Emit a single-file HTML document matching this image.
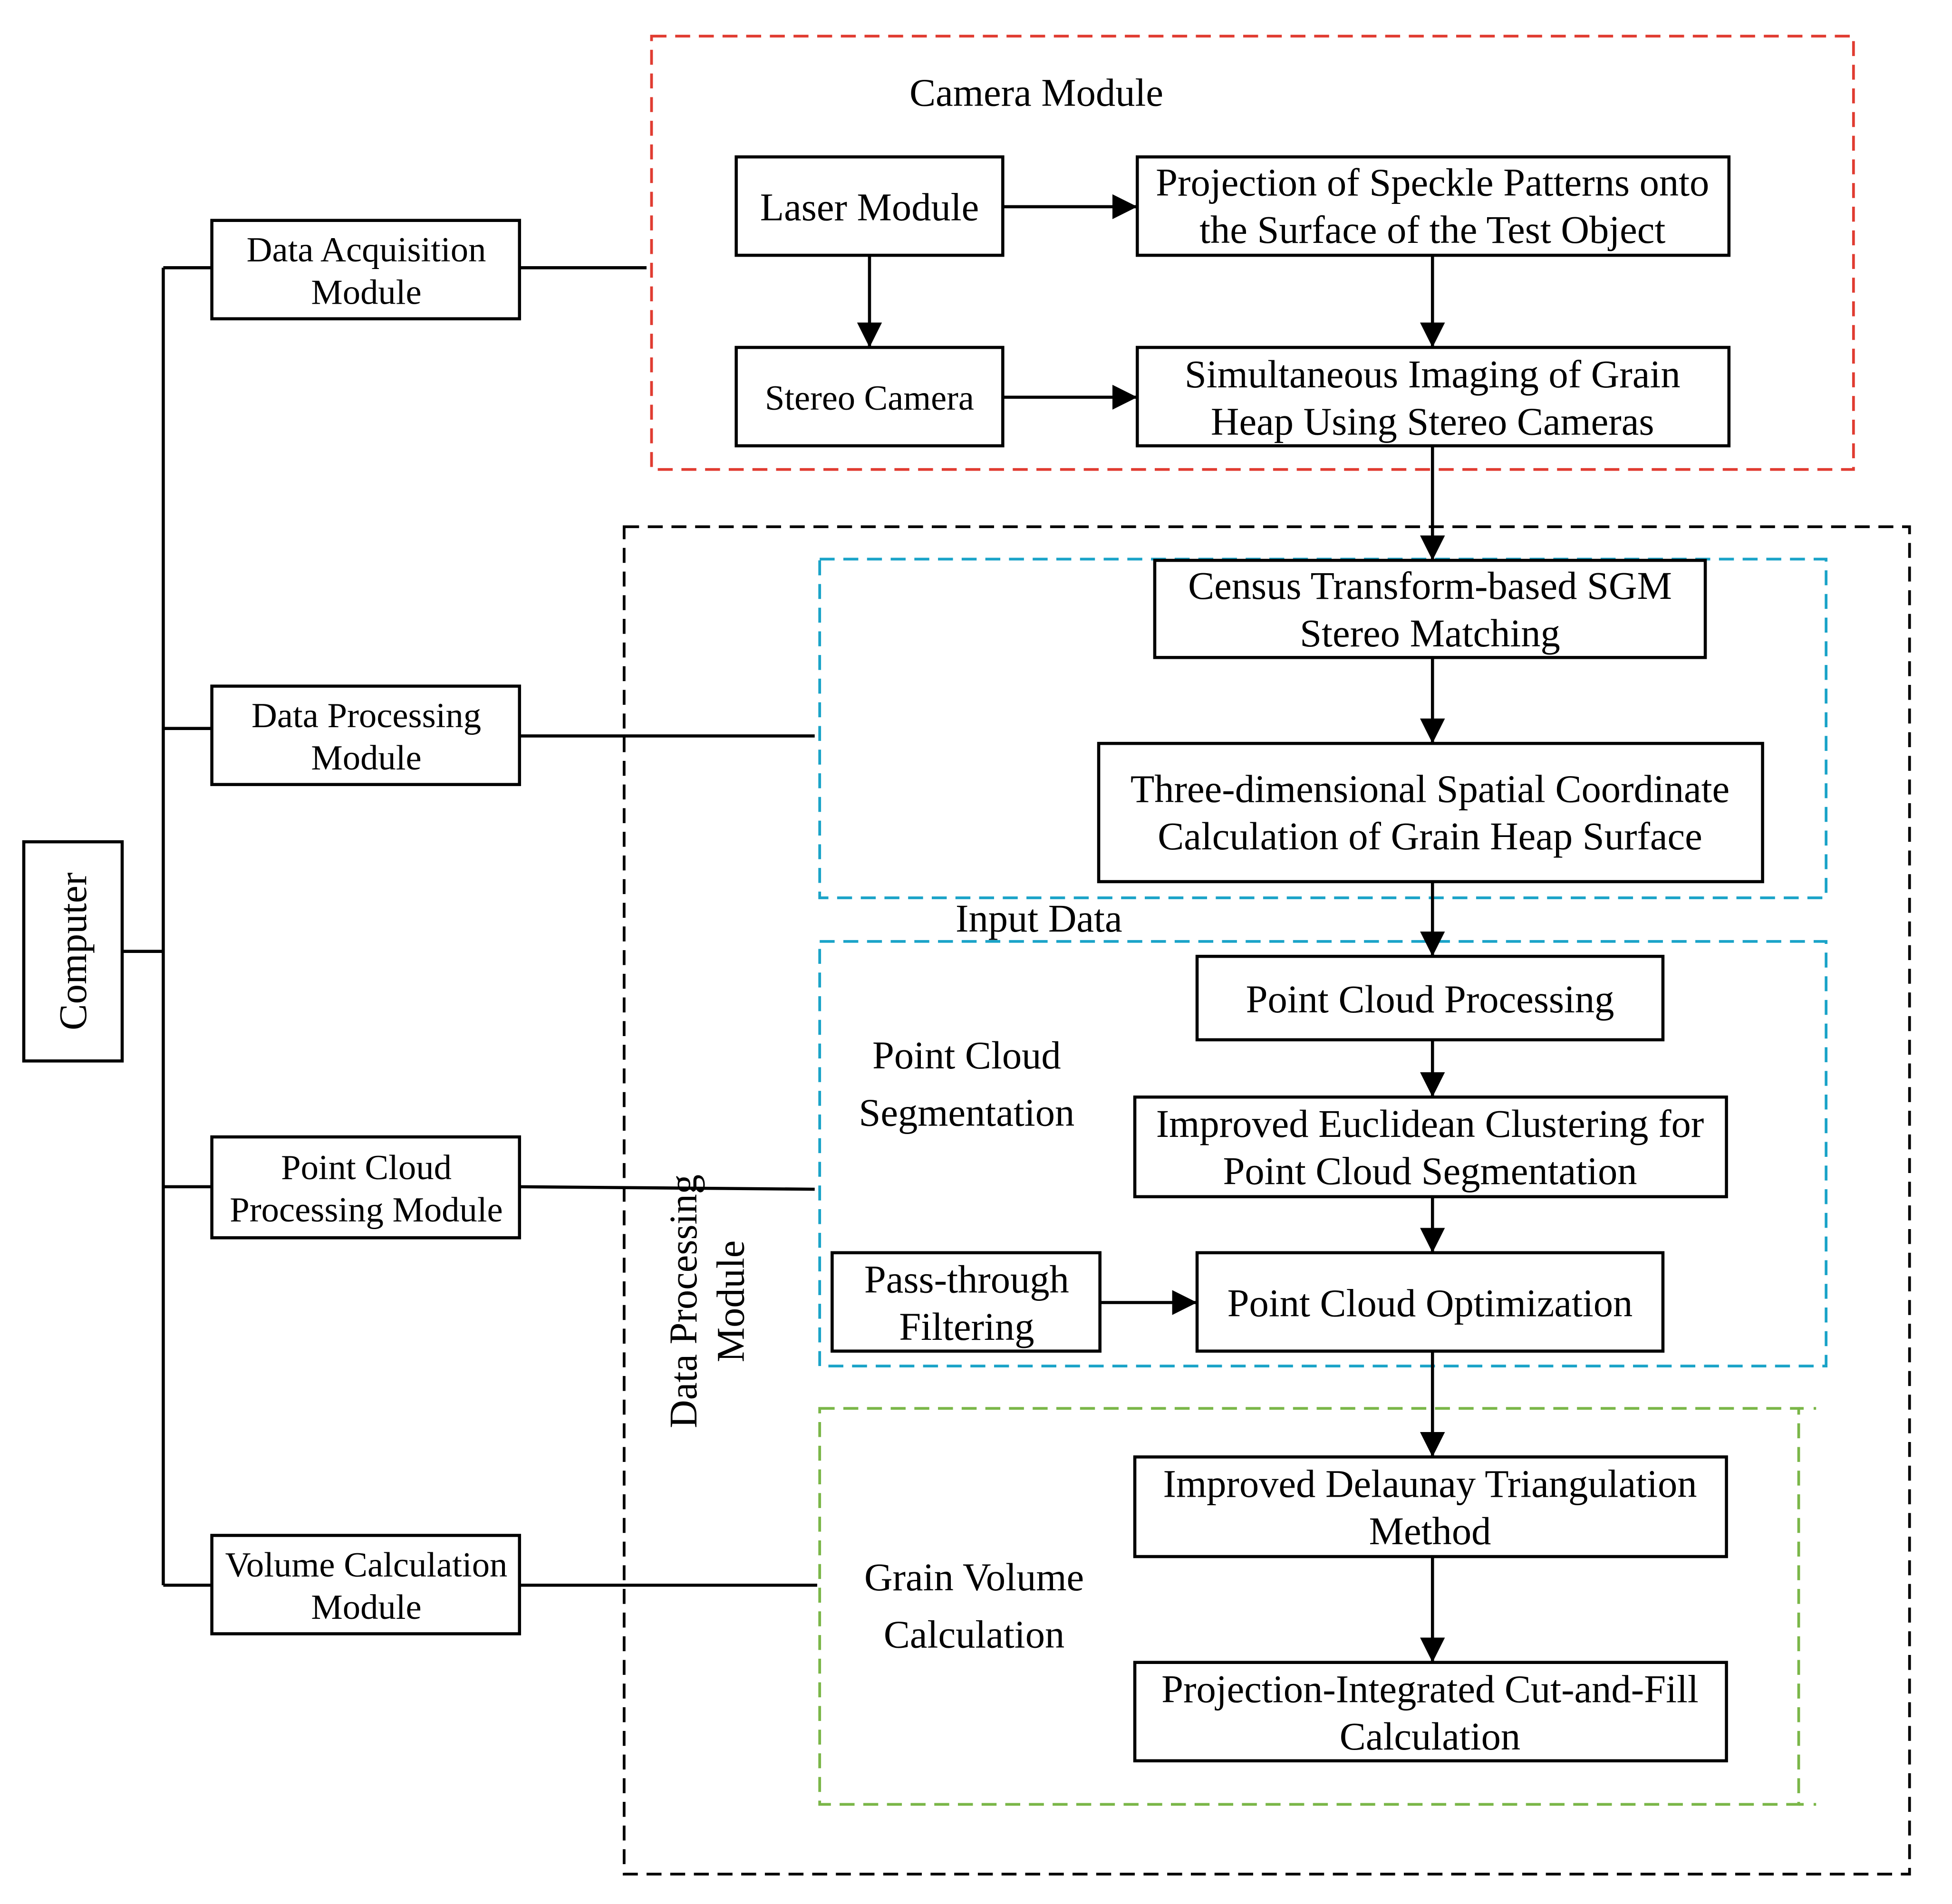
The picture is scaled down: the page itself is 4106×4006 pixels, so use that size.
<!DOCTYPE html>
<html><head><meta charset="utf-8"><style>html,body{margin:0;padding:0;background:#fff}svg{display:block}</style></head><body>
<svg xmlns="http://www.w3.org/2000/svg" width="4106" height="4006" viewBox="0 0 1567 1529">
<defs><marker id="b" viewBox="0 0 10 10" refX="10" refY="5" markerWidth="20" markerHeight="20" orient="auto" markerUnits="userSpaceOnUse"><path d="M0,0L10,5L0,10z" fill="#000"/></marker></defs>
<g font-family="Liberation Serif, serif" fill="#000" text-anchor="middle">
<rect x="523" y="29" width="965" height="348" fill="none" stroke="#e03c31" stroke-width="2.2" stroke-dasharray="12,7"/>
<rect x="501" y="423" width="1032" height="1082" fill="none" stroke="#000" stroke-width="2.2" stroke-dasharray="12,7"/>
<rect x="658" y="449" width="808" height="272" fill="none" stroke="#1aa3c8" stroke-width="2.2" stroke-dasharray="12,7"/>
<rect x="658" y="756" width="808" height="341" fill="none" stroke="#1aa3c8" stroke-width="2.2" stroke-dasharray="12,7"/>
<rect x="658" y="1131" width="786" height="318" fill="none" stroke="#7ab648" stroke-width="2.2" stroke-dasharray="12,7"/>
<line x1="1444" y1="1131" x2="1458" y2="1131" stroke="#7ab648" stroke-width="2.2" stroke-dasharray="4,8"/>
<line x1="1444" y1="1449" x2="1458" y2="1449" stroke="#7ab648" stroke-width="2.2" stroke-dasharray="4,8"/>
<g fill="#fff" stroke="#000" stroke-width="2.5">
<rect x="591" y="126" width="214" height="79"/><rect x="913" y="126" width="475" height="79"/>
<rect x="591" y="279" width="214" height="79"/><rect x="913" y="279" width="475" height="79"/>
<rect x="927" y="450" width="442" height="78"/><rect x="882" y="597" width="533" height="111"/>
<rect x="961" y="768" width="374" height="67"/><rect x="911" y="881" width="475" height="80"/>
<rect x="961" y="1006" width="374" height="79"/><rect x="668" y="1006" width="215" height="79"/>
<rect x="911" y="1170" width="475" height="80"/><rect x="911" y="1335" width="475" height="79"/>
<rect x="19" y="676" width="79" height="176"/>
<rect x="170" y="177" width="247" height="79"/><rect x="170" y="551" width="247" height="79"/>
<rect x="170" y="913" width="247" height="81"/><rect x="170" y="1233" width="247" height="79"/>
</g>
<g stroke="#000" stroke-width="2.5" fill="none">
<line x1="805" y1="166" x2="913" y2="166" marker-end="url(#b)"/>
<line x1="698" y1="205" x2="698" y2="279" marker-end="url(#b)"/>
<line x1="1150" y1="205" x2="1150" y2="279" marker-end="url(#b)"/>
<line x1="805" y1="319" x2="913" y2="319" marker-end="url(#b)"/>
<line x1="1150" y1="358" x2="1150" y2="450" marker-end="url(#b)"/>
<line x1="1150" y1="528" x2="1150" y2="597" marker-end="url(#b)"/>
<line x1="1150" y1="708" x2="1150" y2="768" marker-end="url(#b)"/>
<line x1="1150" y1="835" x2="1150" y2="881" marker-end="url(#b)"/>
<line x1="1150" y1="961" x2="1150" y2="1006" marker-end="url(#b)"/>
<line x1="883" y1="1046" x2="961" y2="1046" marker-end="url(#b)"/>
<line x1="1150" y1="1085" x2="1150" y2="1170" marker-end="url(#b)"/>
<line x1="1150" y1="1250" x2="1150" y2="1335" marker-end="url(#b)"/>
<polyline points="98,764 131,764"/>
<line x1="131" y1="215" x2="131" y2="1273"/>
<line x1="131" y1="215" x2="170" y2="215"/><line x1="131" y1="585" x2="170" y2="585"/>
<line x1="131" y1="953" x2="170" y2="953"/><line x1="131" y1="1273" x2="170" y2="1273"/>
<line x1="417" y1="215" x2="519" y2="215"/><line x1="417" y1="591" x2="654" y2="591"/>
<line x1="417" y1="953" x2="654" y2="955"/><line x1="417" y1="1273" x2="656" y2="1273"/>
</g>
<g font-size="31.5">
<text x="832" y="85">Camera Module</text>
<text x="698" y="177">Laser Module</text>
<text x="1150" y="157">Projection of Speckle Patterns onto</text><text x="1150" y="195">the Surface of the Test Object</text>
<text x="698" y="329" font-size="28.4">Stereo Camera</text>
<text x="1150" y="311">Simultaneous Imaging of Grain</text><text x="1150" y="349">Heap Using Stereo Cameras</text>
<text x="1148" y="481">Census Transform-based SGM</text><text x="1148" y="519">Stereo Matching</text>
<text x="1148" y="644">Three-dimensional Spatial Coordinate</text><text x="1148" y="682">Calculation of Grain Heap Surface</text>
<text x="834" y="748">Input Data</text>
<text x="1148" y="813">Point Cloud Processing</text>
<text x="1148" y="913">Improved Euclidean Clustering for</text><text x="1148" y="951">Point Cloud Segmentation</text>
<text x="1148" y="1057">Point Cloud Optimization</text>
<text x="776" y="1038">Pass-through</text><text x="776" y="1076">Filtering</text>
<text x="776" y="858">Point Cloud</text><text x="776" y="904">Segmentation</text>
<text x="1148" y="1202">Improved Delaunay Triangulation</text><text x="1148" y="1240">Method</text>
<text x="1148" y="1367">Projection-Integrated Cut-and-Fill</text><text x="1148" y="1405">Calculation</text>
<text x="782" y="1277">Grain Volume</text><text x="782" y="1323">Calculation</text>
<text transform="translate(559,1045) rotate(-90)">Data Processing</text>
<text transform="translate(597,1045) rotate(-90)">Module</text>
<text transform="translate(69,764) rotate(-90)" font-size="31.7">Computer</text>
</g>
<g font-size="28.5">
<text x="294" y="210">Data Acquisition</text><text x="294" y="244">Module</text>
<text x="294" y="584">Data Processing</text><text x="294" y="618">Module</text>
<text x="294" y="947">Point Cloud</text><text x="294" y="981">Processing Module</text>
<text x="294" y="1266">Volume Calculation</text><text x="294" y="1300">Module</text>
</g>
</g>
</svg>
</body></html>
